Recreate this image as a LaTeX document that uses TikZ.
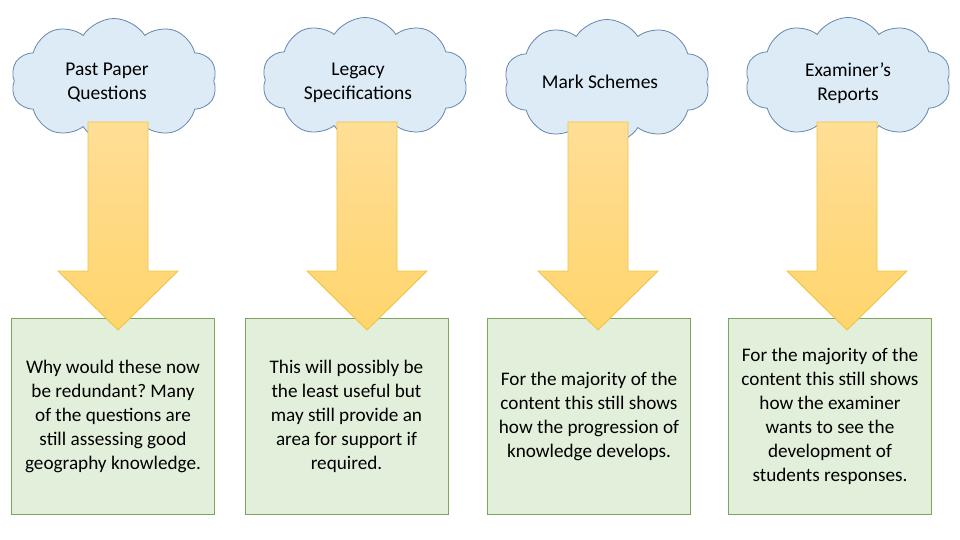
\documentclass[tikz,border=0pt]{standalone}
\usepackage{fontspec}
\setmainfont{Carlito}
\usetikzlibrary{shapes.symbols}
\definecolor{cloudfill}{RGB}{221,235,247}
\definecolor{cloudline}{RGB}{100,135,175}
\definecolor{boxfill}{RGB}{226,239,218}
\definecolor{boxline}{RGB}{125,165,95}
\definecolor{arrtop}{RGB}{255,222,150}
\definecolor{arrbot}{RGB}{255,213,108}
\definecolor{arrline}{RGB}{240,195,70}
\tikzset{
  cloudshape/.style={cloud, cloud puffs=10, cloud puff arc=115, cloud ignores aspect,
    minimum width=206pt, minimum height=125pt, inner sep=0pt,
    fill=cloudfill, draw=cloudline, line width=0.8pt},
  cloudtext/.style={align=center, font=\fontsize{19.5}{24}\selectfont, inner sep=0pt},
  infobox/.style={rectangle, minimum width=203pt, minimum height=196pt, inner sep=0pt,
    fill=boxfill, draw=boxline, line width=0.9pt, align=center,
    font=\fontsize{19.2}{24}\selectfont},
  blockarrow/.style={top color=arrtop, bottom color=arrbot, draw=arrline, line width=0.9pt, line join=miter}
}
\newcommand{\blockarr}[1]{%
  \path[blockarrow] (#1-30,122) -- (#1+30,122) -- (#1+30,271) -- (#1+60,271)
    -- (#1,330) -- (#1-60,271) -- (#1-30,271) -- cycle;}
\begin{document}
\frenchspacing
\begin{tikzpicture}[x=1pt,y=-1pt]
\useasboundingbox (0,0) rectangle (960,540);
% clouds
\node[cloudshape] (c1) at (114,81) {};
\node[cloudshape] (c2) at (365,80) {};
\node[cloudshape] (c3) at (607,82) {};
\node[cloudshape] (c4) at (848,80) {};
\node[cloudtext] (t1) at (107,83) {Past Paper\\Questions};
\node[cloudtext] (t2) at (358,83) {Legacy\\Specifications};
\node[cloudtext] (t3) at (600,82) {Mark Schemes};
\node[cloudtext] (t4) at (848,83) {Examiner’s\\Reports};
% boxes
\node[infobox] (b1) at (113,416) {Why would these now\\be redundant? Many\\of the questions are\\still assessing good\\geography knowledge.};
\node[infobox] (b2) at (346.5,416) {This will possibly be\\the least useful but\\may still provide an\\area for support if\\required.};
\node[infobox] (b3) at (589,416) {For the majority of the\\content this still shows\\how the progression of\\knowledge develops.};
\node[infobox] (b4) at (830,416) {For the majority of the\\content this still shows\\how the examiner\\wants to see the\\development of\\students responses.};
% arrows
\blockarr{118}
\blockarr{367}
\blockarr{598}
\blockarr{847}
\end{tikzpicture}
\end{document}
